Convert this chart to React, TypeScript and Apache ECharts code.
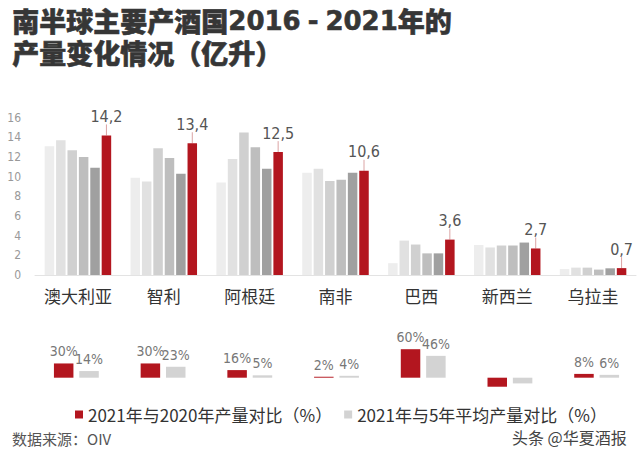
import React, { useEffect, useRef } from 'react';
import * as echarts from 'echarts';

const categories = ['澳大利亚', '智利', '阿根廷', '南非', '巴西', '新西兰', '乌拉圭'];
const years = ['2016', '2017', '2018', '2019', '2020', '2021'];
const prod2016 = [13.1, 9.9, 9.4, 10.4, 1.2, 3.05, 0.6];
const prod2017 = [13.7, 9.5, 11.8, 10.8, 3.5, 2.8, 0.75];
const prod2018 = [12.7, 12.9, 14.5, 9.55, 3.1, 3.0, 0.75];
const prod2019 = [12.0, 11.9, 13.0, 9.7, 2.2, 3.0, 0.55];
const prod2020 = [10.9, 10.3, 10.8, 10.4, 2.2, 3.3, 0.68];
const prod2021 = [14.2, 13.4, 12.5, 10.6, 3.6, 2.7, 0.7];
const vs2020 = [30, 30, 16, 2, 60, -19, 8];
const vs5yr = [14, 23, 5, 4, 46, -12, 6];
const legendNames = ['2021年与2020年产量对比（%）', '2021年与5年平均产量对比（%）'];

export default function App() {
  const ref = useRef<HTMLDivElement>(null);
  useEffect(() => {
    const chart = echarts.init(ref.current!, null, { renderer: 'svg' });
    const narrow = '"Liberation Sans Narrow","DejaVu Sans Condensed",sans-serif';
    const cjk = '"Noto Sans CJK SC","Noto Sans",sans-serif';
    const grays = ['#ededed', '#e1e1e1', '#d0d0d0', '#bebebe', '#a0a0a0'];
    const red = '#b3161f';
    const titleColor = '#363636';
    const prod = [prod2016, prod2017, prod2018, prod2019, prod2020, prod2021];

    const topSeries: any[] = prod.map((d, i) => {
      const s: any = {
        name: years[i],
        type: 'bar',
        xAxisIndex: 0,
        yAxisIndex: 0,
        data: d,
        barWidth: 9.5,
        barGap: '20%',
        itemStyle: { color: i === 5 ? red : grays[i] },
      };
      if (i === 5) {
        s.label = {
          show: true,
          position: 'top',
          distance: 2,
          formatter: (p: any) => String(p.value).replace('.', ','),
          color: '#555',
          fontSize: 16,
          fontFamily: narrow,
        };
        s.labelLayout = { dy: -9 };
        s.labelLine = { show: true, lineStyle: { color: '#dba4a4', width: 1 } };
      }
      return s;
    });

    const pctLabel = {
      show: true,
      position: 'top',
      distance: 5,
      formatter: (p: any) => (p.value < 0 ? '' : p.value + '%'),
      color: '#777',
      fontSize: 14,
      fontFamily: narrow,
    };

    const bottomSeries: any[] = [
      {
        name: legendNames[0],
        type: 'bar',
        xAxisIndex: 1,
        yAxisIndex: 1,
        data: vs2020,
        barWidth: 19.5,
        barGap: '30%',
        itemStyle: { color: red },
        label: pctLabel,
      },
      {
        name: legendNames[1],
        type: 'bar',
        xAxisIndex: 1,
        yAxisIndex: 1,
        data: vs5yr,
        barWidth: 19.5,
        barGap: '30%',
        itemStyle: { color: '#d3d3d3' },
        label: pctLabel,
      },
    ];

    const heavy = { fill: titleColor, stroke: titleColor, lineWidth: 0.6 };

    chart.setOption({
      animation: false,
      backgroundColor: '#ffffff',
      legend: {
        data: legendNames,
        left: 70,
        top: 401,
        icon: 'rect',
        itemWidth: 8,
        itemHeight: 8,
        itemGap: 12,
        textStyle: { fontSize: 17, color: '#333', fontFamily: cjk },
      },
      grid: [
        { left: 35, top: 117.7, width: 601, height: 157.3 },
        { left: 33, top: 349.2, width: 615, height: 38 },
      ],
      xAxis: [
        {
          type: 'category',
          gridIndex: 0,
          data: categories,
          axisLine: { lineStyle: { color: '#e3e3e3' } },
          axisTick: { show: false },
          axisLabel: { interval: 0, fontSize: 17, color: '#333', fontFamily: cjk, margin: 12 },
        },
        { type: 'category', gridIndex: 1, data: categories, show: false },
      ],
      yAxis: [
        {
          type: 'value',
          gridIndex: 0,
          min: 0,
          max: 16,
          interval: 2,
          axisLine: { show: false },
          axisTick: { show: false },
          splitLine: { show: false },
          axisLabel: { fontSize: 12, color: '#999', fontFamily: narrow, margin: 14 },
        },
        { type: 'value', gridIndex: 1, min: -20, max: 60, show: false, splitLine: { show: false } },
      ],
      graphic: [
        {
          type: 'text',
          left: 12,
          top: 7,
          style: {
            text: '{a|南半球主要产酒国}{b|2016}{d|-}{b|2021}{a|年的}',
            rich: {
              a: { fontSize: 27, fontWeight: 900, fontFamily: cjk, lineHeight: 26, ...heavy },
              b: { fontSize: 26, fontWeight: 'bold', fontFamily: '"DejaVu Sans",sans-serif', lineHeight: 26, ...heavy },
              d: { fontSize: 26, fontWeight: 'bold', fontFamily: '"DejaVu Sans",sans-serif', lineHeight: 26, padding: [0, 7, 0, 7], ...heavy },
            },
          },
        },
        {
          type: 'text',
          left: 12,
          top: 39,
          style: {
            text: '产量变化情况（亿升）',
            fontSize: 27,
            lineHeight: 26,
            fontWeight: 900,
            fontFamily: cjk,
            ...heavy,
          },
        },
        {
          type: 'text',
          left: 12,
          top: 431,
          style: { text: '数据来源：OIV', fontSize: 15, fill: '#555', fontFamily: cjk },
        },
        {
          type: 'text',
          left: 512,
          top: 429,
          style: {
            text: '头条 @华夏酒报',
            fontSize: 16,
            fill: '#444',
            fontFamily: cjk,
          },
        },
      ],
      series: [...topSeries, ...bottomSeries],
    });
    return () => chart.dispose();
  }, []);
  return (
    <div
      ref={ref}
      style={{ position: 'fixed', left: 0, top: 0, width: 640, height: 457, background: '#fff' }}
    />
  );
}
